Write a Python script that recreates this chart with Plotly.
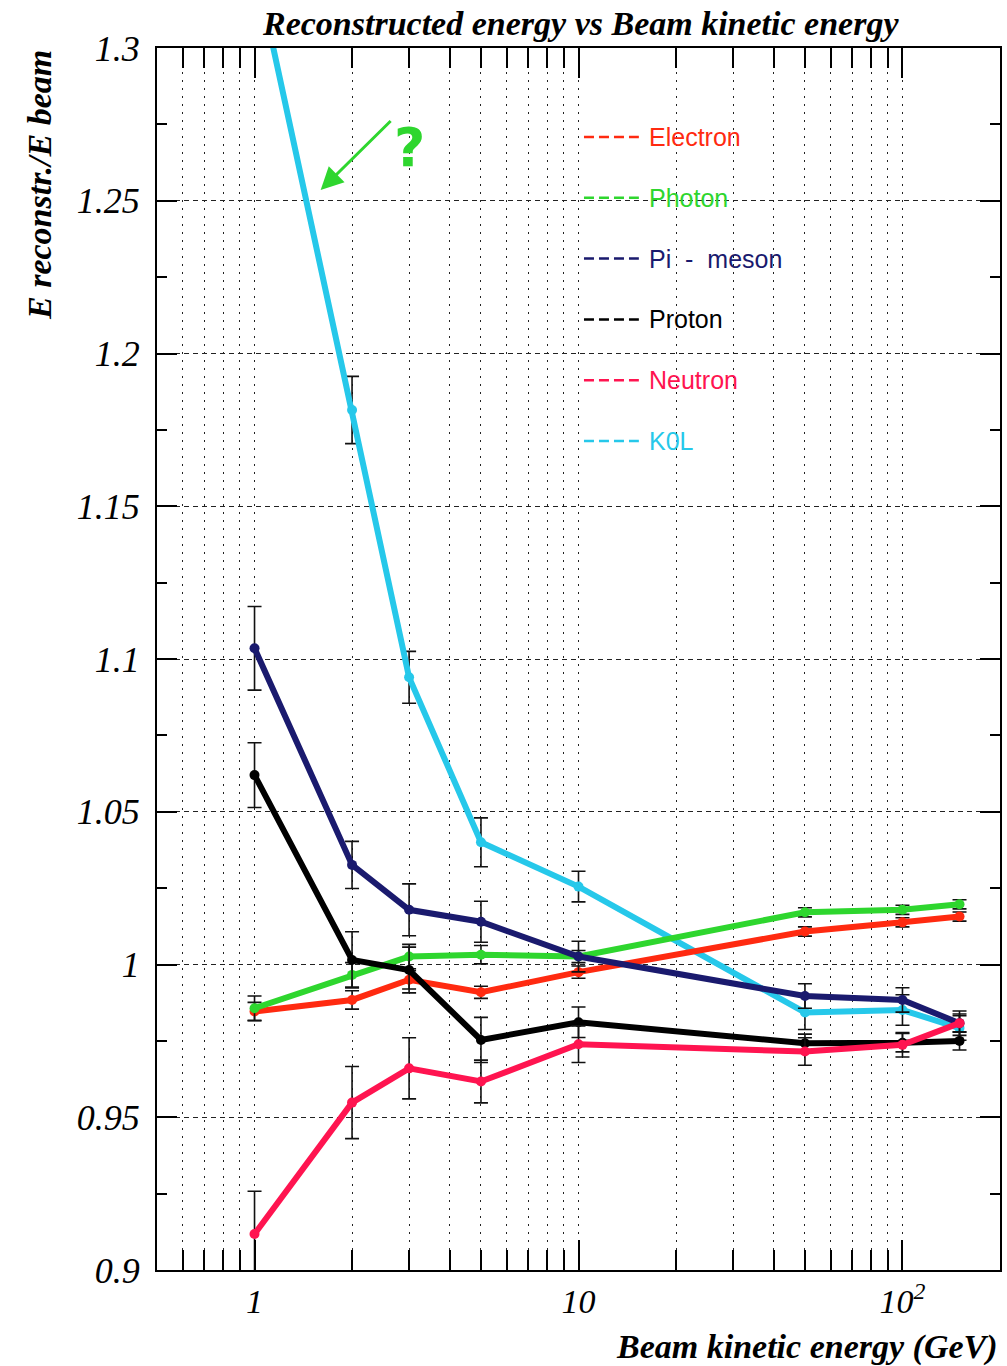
import math
import plotly.graph_objects as go

# Beam kinetic energies (GeV)
energy = [1, 2, 3, 5, 10, 50, 100, 150]

# E reconstructed / E beam for each particle type
electron = [0.9846, 0.9884, 0.9950, 0.9909, 0.9975, 1.0108, 1.0138, 1.0157]
photon = [0.9857, 0.9966, 1.0026, 1.0032, 1.0026, 1.0171, 1.0179, 1.0197]
pi_meson = [1.1035, 1.0326, 1.0179, 1.0140, 1.0026, 0.9897, 0.9884, 0.9808]
proton = [1.0620, 1.0015, 0.9982, 0.9753, 0.9811, 0.9742, 0.9744, 0.9750]
neutron = [0.9118, 0.9548, 0.9660, 0.9617, 0.9739, 0.9715, 0.9737, 0.9808]
k0l = [1.3285, 1.1815, 1.0940, 1.0400, 1.0255, 0.9843, 0.9851, 0.9792]

# Statistical errors
electron_err = [0.003, 0.003, 0.003, 0.002, 0.002, 0.0015, 0.0015, 0.0015]
photon_err = [0.004, 0.004, 0.004, 0.003, 0.002, 0.0015, 0.0015, 0.0015]
pi_meson_err = [0.0137, 0.0077, 0.0085, 0.0067, 0.005, 0.004, 0.004, 0.004]
proton_err = [0.0106, 0.0092, 0.0075, 0.0074, 0.005, 0.003, 0.003, 0.003]
neutron_err = [0.014, 0.0118, 0.010, 0.007, 0.006, 0.0045, 0.004, 0.003]
k0l_err = [0.015, 0.011, 0.0085, 0.008, 0.005, 0.0056, 0.005, 0.004]

names = ["Electron", "Photon", "Pi  -  meson", "Proton", "Neutron", "K0L"]
colors = ["#ff2a10", "#2ed62e", "#1a1a6e", "#000000", "#ff1450", "#26c8ea"]
values = [electron, photon, pi_meson, proton, neutron, k0l]
errors = [electron_err, photon_err, pi_meson_err, proton_err, neutron_err, k0l_err]

# Axis ticks
x_tickvals = [1, 10, 100]
x_ticktext = ["1", "10", "10<sup>2</sup>"]
x_minor = [0.5, 0.6, 0.7, 0.8, 0.9, 2, 3, 4, 5, 6, 7, 8, 9,
           20, 30, 40, 50, 60, 70, 80, 90, 200]
y_tickvals = [0.9, 0.95, 1.0, 1.05, 1.1, 1.15, 1.2, 1.25, 1.3]
y_ticktext = ["0.9", "0.95", "1", "1.05", "1.1", "1.15", "1.2", "1.25", "1.3"]

title = "Reconstructed energy vs Beam kinetic energy"
x_title = "Beam kinetic energy (GeV)"
y_title = "E reconstr./E beam"

serif = "Liberation Serif"

fig = go.Figure()

draw_order = [5, 0, 1, 2, 3, 4]
for i in draw_order:
    fig.add_trace(go.Scatter(
        x=energy, y=values[i], name=names[i], mode="lines+markers",
        line=dict(color=colors[i], width=6),
        marker=dict(color=colors[i], size=10),
        error_y=dict(type="data", array=errors[i], visible=True,
                     color="#111111", thickness=1.6, width=7),
        showlegend=False,
    ))

# Legend drawn inside the frame: dashed sample + label
row_gap = 60.8
for i, nm in enumerate(names):
    yp = 1 - (89 + i * row_gap) / 1222
    fig.add_shape(type="line", xref="paper", yref="paper",
                  x0=0.5065, x1=0.5716, y0=yp, y1=yp,
                  line=dict(color=colors[i], width=2.5, dash="10px,5px"))
    fig.add_annotation(xref="paper", yref="paper", x=0.581, y=yp,
                       text=nm, showarrow=False, xanchor="left", yanchor="middle",
                       font=dict(family="Liberation Sans", size=25, color=colors[i]))

# Green question mark with arrow pointing at the K0L curve
fig.add_annotation(x=math.log10(1.6), y=1.2535, xref="x", yref="y",
                   ax=73, ay=-72, showarrow=True, arrowhead=2, arrowsize=1.5,
                   arrowwidth=3, arrowcolor="#2ed62e", text=" ")
fig.add_annotation(x=math.log10(3.0), y=1.2675, xref="x", yref="y",
                   text="<b>?</b>", showarrow=False,
                   font=dict(family="DejaVu Sans", size=54, color="#2ed62e"))

# Title and axis titles
fig.add_annotation(xref="paper", yref="paper", x=0.502, y=1.0, yshift=4,
                   text="<b><i>" + title + "</i></b>", showarrow=False,
                   xanchor="center", yanchor="bottom",
                   font=dict(family=serif, size=34, color="black"))
fig.add_annotation(xref="paper", yref="paper", x=1.0, y=0, yshift=-56,
                   text="<b><i>" + x_title + "</i></b>", showarrow=False,
                   xanchor="right", yanchor="top",
                   font=dict(family=serif, size=34, color="black"))
fig.add_annotation(xref="paper", yref="paper", x=0, xshift=-118, y=1.0,
                   text="<b><i>" + y_title + "</i></b>", showarrow=False,
                   textangle=-90, xanchor="center", yanchor="top",
                   font=dict(family=serif, size=34, color="black"))

axis_common = dict(showline=True, linecolor="black", linewidth=2, mirror="ticks",
                   ticks="inside", tickcolor="black", zeroline=False)

fig.update_xaxes(
    type="log", range=[math.log10(0.5), math.log10(200)],
    tickvals=x_tickvals, ticktext=x_ticktext, ticklen=30, tickwidth=1.5,
    showgrid=True, gridcolor="#222222", gridwidth=1, griddash="2px,6px",
    minor=dict(tickvals=x_minor, ticks="inside", ticklen=20, tickcolor="black",
               showgrid=True, gridcolor="#222222", gridwidth=1, griddash="2px,6px"),
    tickfont=dict(family=serif, size=34, color="black", style="italic"),
    ticklabelstandoff=0,
    **axis_common,
)
fig.update_yaxes(
    range=[0.9, 1.3], tickvals=y_tickvals, ticktext=y_ticktext,
    ticklen=20, tickwidth=1.5,
    showgrid=True, gridcolor="#222222", gridwidth=1, griddash="5px,4px",
    minor=dict(dtick=0.025, ticks="inside", ticklen=10, tickcolor="black", showgrid=False),
    tickfont=dict(family=serif, size=36, color="black", style="italic"),
    ticklabelstandoff=8,
    **axis_common,
)

fig.update_layout(
    width=1007, height=1366,
    margin=dict(l=157, r=5, t=48, b=96),
    paper_bgcolor="white", plot_bgcolor="white",
    font=dict(family=serif, color="black"),
    showlegend=False,
)

fig.write_html("out.html")
